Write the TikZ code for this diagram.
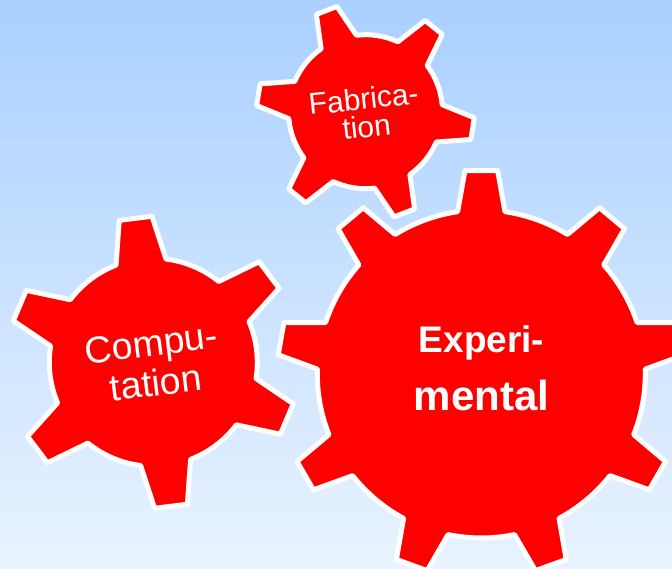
\documentclass[tikz,border=0pt]{standalone}
\usepackage{fontspec}
\setmainfont{Liberation Sans}
\definecolor{skytop}{HTML}{A9D0FF}
\definecolor{skybot}{HTML}{E9F3FF}
\definecolor{gearred}{HTML}{FF0000}
\tikzset{
  gearbody/.style={fill=gearred,draw=white,line width=5pt,line join=round},
  gearlabel/.style={text=white,align=center,inner sep=0pt}
}
% #1 centre x, #2 centre y, #3 body radius, #4 tip radius, #5 first tooth angle,
% #6 second tooth angle, #7 base half-angle, #8 tip half-angle, #9 last tooth angle
\newcommand{\gearshape}[9]{%
  \draw[gearbody] ([shift={(#5+#7:#3 pt)}]#1 pt,#2 pt)
  \foreach \ga in {#5,#6,...,#9}{
    -- ([shift={(\ga+#7:#3 pt)}]#1 pt,#2 pt)
    -- ([shift={(\ga+#8:#4 pt)}]#1 pt,#2 pt)
    -- ([shift={(\ga-#8:#4 pt)}]#1 pt,#2 pt)
    -- ([shift={(\ga-#7:#3 pt)}]#1 pt,#2 pt)
    arc[start angle=\ga-#7,delta angle=-\gapdelta+2*#7,radius=#3 pt]
  } -- cycle;
}
\begin{document}
\begin{tikzpicture}[x=1pt,y=1pt]
\useasboundingbox (0,0) rectangle (672,569);
\clip (0,0) rectangle (672,569);
\shade[top color=skytop,bottom color=skybot] (0,0) rectangle (672,569);
\def\gapdelta{60}
\gearshape{365.5}{457.3}{77}{109}{111}{51}{14.2}{5.8}{-189}
\gearshape{153.3}{206.7}{104}{146}{97}{37}{14}{6.5}{-203}
\def\gapdelta{40}
\gearshape{481.3}{195}{164}{204}{90}{50}{8.3}{4.6}{-230}
\node[gearlabel,rotate=6,font=\fontsize{30}{28}\selectfont] (fab) at (365,456.5) {Fabrica-\\tion};
\node[gearlabel,rotate=7,font=\fontsize{37.5}{40}\selectfont] (comp) at (153.5,206) {Compu-\\tation};
\node[gearlabel,font=\fontsize{37}{58}\selectfont\bfseries] (exp) at (481.5,201) {Experi-\\\fontsize{42}{58}\selectfont mental};
\end{tikzpicture}
\end{document}
